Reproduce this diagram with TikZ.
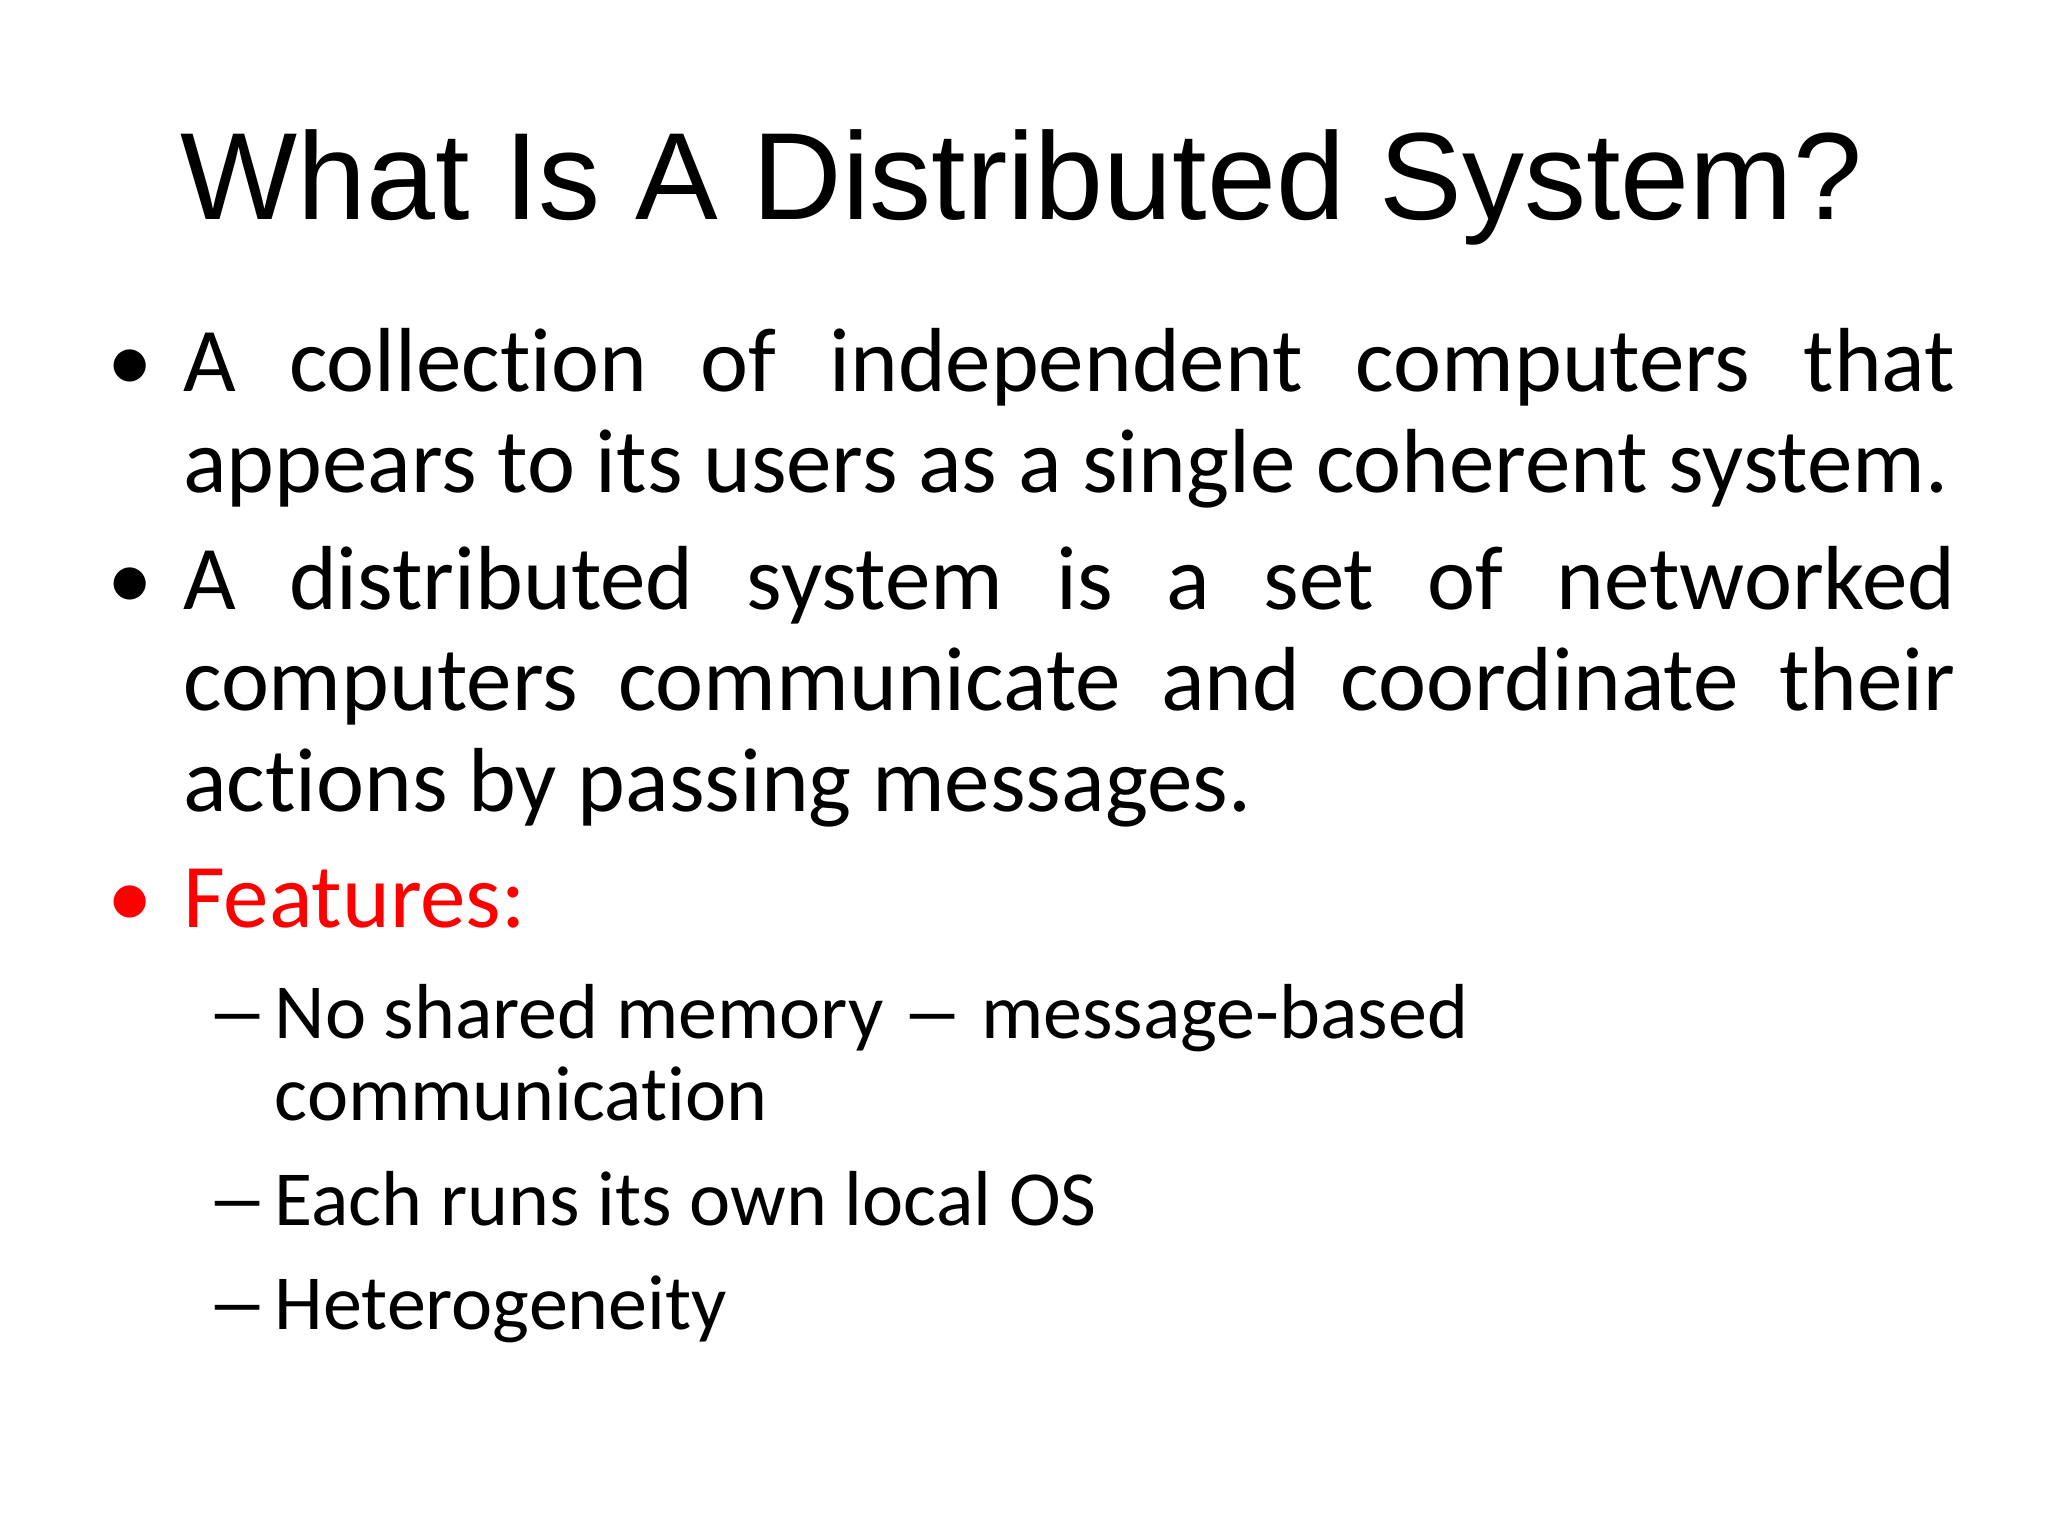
\documentclass[tikz,border=0pt]{standalone}
\usepackage{fontspec}
\setmainfont[RawFeature=-liga]{Carlito}
\newfontfamily\titlefont{Liberation Sans}
\hyphenpenalty=10000
\exhyphenpenalty=10000
\lefthyphenmin=64
\newcommand{\wdash}{\scalebox{1.6}[1]{–}}
\begin{document}
\begin{tikzpicture}[x=0.653pt,y=-0.653pt,
  para/.style={anchor=base west,inner sep=0pt,text width=886pt,align=justify,font=\fontsize{45.5}{50.5}\selectfont},
  sub/.style={anchor=base west,inner sep=0pt,font=\fontsize{39}{41.5}\selectfont},
  bul/.style={anchor=base west,inner sep=0pt,font=\fontsize{45.5}{50.5}\selectfont}]
\useasboundingbox (0,0) rectangle (1568,1176);
\fill[white] (0,0) rectangle (1568,1176);
\node[anchor=base west,inner sep=0pt,font=\titlefont\fontsize{62}{64}\selectfont] (title) at (138,168) {What Is A Distributed System?};
\node[bul] (b1) at (82,300) {•};
\node[para] (p1) at (140,300) {A collection of independent computers that appears to its users as a single coherent system.};
\node[bul] (b2) at (82,467) {•};
\node[para] (p2) at (140,467) {A distributed system is a set of networked computers communicate and coordinate their actions by passing messages.};
\node[bul,text=red] (b3) at (82,710) {•};
\node[bul,text=red] (p3) at (140,710) {Features:};
\node[sub] (s1d) at (158,795) {\wdash};
\node[sub] (s1) at (210,795) {No shared memory \wdash{} message-based};
\node[sub] (s1b) at (210,858) {communication};
\node[sub] (s2d) at (158,938) {\wdash};
\node[sub] (s2) at (210,938) {Each runs its own local OS};
\node[sub] (s3d) at (158,1018) {\wdash};
\node[sub] (s3) at (210,1018) {Heterogeneity};
\end{tikzpicture}
\end{document}
